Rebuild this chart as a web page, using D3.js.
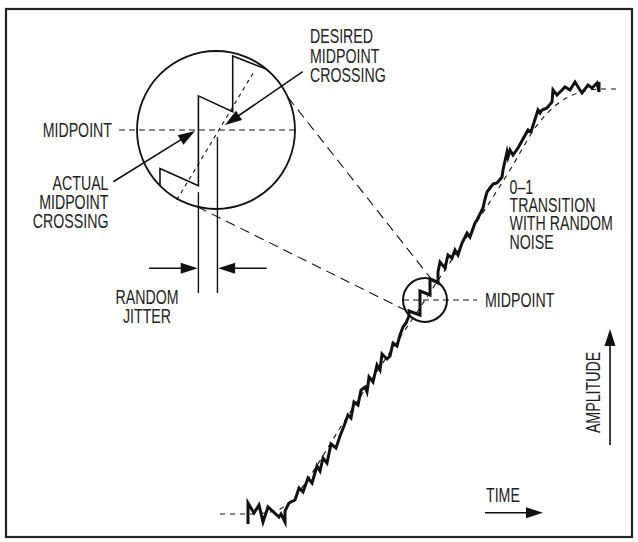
<!DOCTYPE html>
<html><head><meta charset="utf-8">
<script src="https://cdn.jsdelivr.net/npm/d3@7"></script>
<style>html,body{margin:0;padding:0;background:#fff;} svg{display:block;}</style>
</head><body>
<script>
// ---------- DATA (time units, amplitude units) ----------
const timeDomain = [0, 351];
const ampDomain = [0, 425];
const midLevel = 214;            // midpoint amplitude
const actualCross = 172.1;       // actual midpoint crossing time
const desiredCross = 177.4;      // desired midpoint crossing time

// noisy 0-1 transition
const waveTime = [0,0,6,11,15,20,31,33,37,37,41,47,51,55,60,64,69,72,75,79,83,88,92,96,100,103,106,110,113,117,119,121,125,129,132,134,139,142,145,149,152,155,158,161,161,172,172,182,182,190,190,192,197,200,204,207,210,214,219,222,227,229,235,237,239,242,245,249,254,255,259,260,262,265,270,280,283,290,292,294,299,304,305,309,312,317,322,327,332,334,340,344,349,351,351];
const waveAmp  = [-10,11,1,9,-8,7,-3,0,-8,3,11,14,26,22,36,31,48,43,56,51,70,66,78,88,99,96,112,109,124,127,122,137,132,149,144,160,155,158,171,168,179,187,191,198,203,199,223,219,235,231,242,252,246,259,256,264,259,271,281,277,291,294,306,315,322,326,330,331,337,344,362,357,364,359,366,384,382,404,401,404,406,412,424,419,422,427,424,432,424,421,429,426,431,422,432];

// ideal (noise-free) transition
const idealTime = [-28,2,27,44,62,92,177,262,290,312,337,353,372];
const idealAmp  = [0,0,3,14,38,86,214,344,390,412,423,425,425];

// magnified inset: zigzag, ideal line, jitter markers
const insetTime = [161.4,161.4,172.1,172.1,181.65,181.65,194];
const insetAmp  = [192,203.3,198.5,223.5,219.1,234.6,229.8];
const insetIdealTime = [166.05,187.86];
const insetIdealAmp  = [194.5,230.7];
const insetCenter = [177, 214];

// connector angles (deg) on [inset circle, detail circle]
const connectorAngles = [[-24.6,-73.7],[103.7,152]];

// text
const leftMidLabel = ["MIDPOINT"];
const actualLabel = ["ACTUAL","MIDPOINT","CROSSING"];
const desiredLabel = ["DESIRED","MIDPOINT","CROSSING"];
const jitterLabel = ["RANDOM","JITTER"];
const noiseLabel = ["0\u20131","TRANSITION","WITH RANDOM","NOISE"];
const rightMidLabel = ["MIDPOINT"];
const timeLabel = ["TIME"];
const ampLabel = ["AMPLITUDE"];

// ---------- DRAWING ----------
const W = 638, H = 542;
const ink = "#111", textInk = "#222";
const svg = d3.select("body").append("svg").attr("width", W).attr("height", H);

const x = d3.scaleLinear().domain(timeDomain).range([248, 599]);
const y = d3.scaleLinear().domain(ampDomain).range([514, 89]);

// inset scales (magnification about the crossing)
const bigC = [216, 130], bigR = 79, smallR = 22;
const k = bigR / smallR;
const xi = d3.scaleLinear().domain([insetCenter[0] - smallR, insetCenter[0] + smallR]).range([bigC[0] - bigR, bigC[0] + bigR]);
const yi = d3.scaleLinear().domain([insetCenter[1] - smallR, insetCenter[1] + smallR]).range([bigC[1] + bigR, bigC[1] - bigR]);
const smallC = [x(insetCenter[0]), y(insetCenter[1])];

// frame
svg.append("rect").attr("x", 6).attr("y", 9).attr("width", 626).attr("height", 528)
  .attr("fill", "none").attr("stroke", "#222").attr("stroke-width", 2.2);

const defs = svg.append("defs");
defs.append("clipPath").attr("id", "insetClip").append("circle")
  .attr("cx", bigC[0]).attr("cy", bigC[1]).attr("r", bigR - 0.5);

// ideal dashed transition
const idealLine = d3.line().x(d => x(d[0])).y(d => y(d[1])).curve(d3.curveMonotoneX);
svg.append("path").datum(idealTime.map((t, i) => [t, idealAmp[i]]))
  .attr("d", idealLine).attr("fill", "none").attr("stroke", ink)
  .attr("stroke-width", 1.1).attr("stroke-dasharray", "5,5");

// noisy waveform
const waveLine = d3.line().x(d => x(d[0])).y(d => y(d[1]));
svg.append("path").datum(waveTime.map((t, i) => [t, waveAmp[i]]))
  .attr("d", waveLine).attr("fill", "none").attr("stroke", ink)
  .attr("stroke-width", 3).attr("stroke-linejoin", "miter").attr("stroke-miterlimit", 6);

// small detail circle
svg.append("circle").attr("cx", smallC[0]).attr("cy", smallC[1]).attr("r", smallR)
  .attr("fill", "none").attr("stroke", ink).attr("stroke-width", 2);
// midpoint dashed (main)
svg.append("line").attr("x1", x(155)).attr("x2", x(229)).attr("y1", y(midLevel)).attr("y2", y(midLevel))
  .attr("stroke", ink).attr("stroke-width", 1.2).attr("stroke-dasharray", "6,4");

// connectors
connectorAngles.forEach(([a1, a2]) => {
  const r1 = a1 * Math.PI / 180, r2 = a2 * Math.PI / 180;
  svg.append("line")
    .attr("x1", bigC[0] + bigR * Math.cos(r1)).attr("y1", bigC[1] + bigR * Math.sin(r1))
    .attr("x2", smallC[0] + smallR * Math.cos(r2)).attr("y2", smallC[1] + smallR * Math.sin(r2))
    .attr("stroke", ink).attr("stroke-width", 1.1).attr("stroke-dasharray", "10,6");
});

// big inset circle
svg.append("circle").attr("cx", bigC[0]).attr("cy", bigC[1]).attr("r", bigR)
  .attr("fill", "#fff").attr("stroke", ink).attr("stroke-width", 1.8);

const inset = svg.append("g");
const insetClipped = inset.append("g").attr("clip-path", "url(#insetClip)");
insetClipped.append("path").datum(insetTime.map((t, i) => [t, insetAmp[i]]))
  .attr("d", d3.line().x(d => xi(d[0])).y(d => yi(d[1])))
  .attr("fill", "none").attr("stroke", ink).attr("stroke-width", 1.6).attr("stroke-linejoin", "miter");
inset.append("line")
  .attr("x1", xi(insetIdealTime[0])).attr("y1", yi(insetIdealAmp[0]))
  .attr("x2", xi(insetIdealTime[1])).attr("y2", yi(insetIdealAmp[1]))
  .attr("stroke", ink).attr("stroke-width", 1.1).attr("stroke-dasharray", "4,4");
// inset midpoint dashed
inset.append("line").attr("x1", xi(150)).attr("x2", xi(199.3)).attr("y1", yi(midLevel)).attr("y2", yi(midLevel))
  .attr("stroke", ink).attr("stroke-width", 1.2).attr("stroke-dasharray", "6,4");
// jitter markers
inset.append("line").attr("x1", xi(actualCross)).attr("x2", xi(actualCross))
  .attr("y1", yi(196.7)).attr("y2", yi(168.6)).attr("stroke", ink).attr("stroke-width", 1.4);
inset.append("line").attr("x1", xi(desiredCross)).attr("x2", xi(desiredCross))
  .attr("y1", yi(212)).attr("y2", yi(168.6)).attr("stroke", ink).attr("stroke-width", 1.4);

// arrows
function arrow(x1, y1, x2, y2, len = 17, hw = 5.5, sw = 1.6) {
  const dx = x2 - x1, dy = y2 - y1, L = Math.hypot(dx, dy);
  const ux = dx / L, uy = dy / L;
  const bx = x2 - ux * len, by = y2 - uy * len;
  svg.append("line").attr("x1", x1).attr("y1", y1).attr("x2", bx + ux * 2).attr("y2", by + uy * 2)
    .attr("stroke", ink).attr("stroke-width", sw);
  svg.append("path")
    .attr("d", `M${x2},${y2}L${bx - uy * hw},${by + ux * hw}L${bx + uy * hw},${by - ux * hw}Z`)
    .attr("fill", ink);
}
const jitterY = 268.3;
arrow(149, jitterY, xi(actualCross) - 0.7, jitterY);
arrow(266.7, jitterY, xi(desiredCross) + 0.7, jitterY);
arrow(113.3, 181.7, 195, 131);
arrow(302.7, 71.7, 225, 125);
arrow(485, 512.7, 543, 512.7);
arrow(610, 445, 610, 329);

// text
function label(lines, x0, y0, anchor, lh = 19.2, rot = 0) {
  lines.forEach((s, i) => {
    svg.append("text")
      .attr("transform", `translate(${x0},${y0 + i * lh}) rotate(${rot}) scale(0.71,1)`)
      .attr("text-anchor", anchor)
      .attr("font-family", "'Liberation Sans', Arial, Helvetica, sans-serif")
      .attr("font-size", 20).attr("fill", textInk)
      .text(s);
  });
}
label(leftMidLabel, 112, 137, "end");
label(actualLabel, 108.5, 190, "end");
label(desiredLabel, 310, 43, "start", 19.5);
label(jitterLabel, 147, 304, "middle");
label(noiseLabel, 509.5, 193.5, "start", 18.4);
label(rightMidLabel, 485, 307, "start");
label(timeLabel, 486, 502, "start");
label(ampLabel, 600, 392.5, "middle", 0, -90);
</script>
</body></html>
